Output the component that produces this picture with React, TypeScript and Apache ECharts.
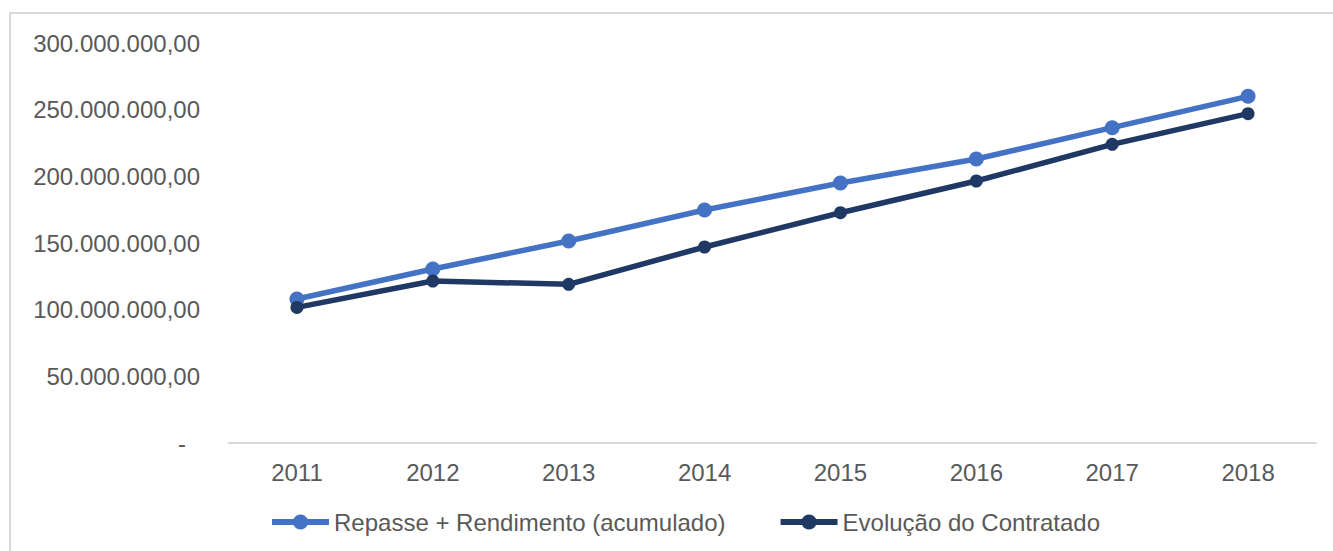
import React, { useEffect, useRef } from "react";
import * as echarts from "echarts";

const categories = ["2011", "2012", "2013", "2014", "2015", "2016", "2017", "2018"];
const repasseRendimento = [108000000, 130500000, 151500000, 174750000, 195000000, 213000000, 236500000, 260000000];
const evolucaoContratado = [101700000, 121500000, 119000000, 147000000, 172700000, 196500000, 224000000, 247000000];
const seriesNames = ["Repasse + Rendimento (acumulado)", "Evolução do Contratado"];
const yTicks = { min: 0, max: 300000000, interval: 50000000 };

function fmt(v: number): string {
  if (v === 0) return "{d|-}";
  const s = Math.round(v).toString();
  const withDots = s.replace(/\B(?=(\d{3})+(?!\d))/g, ".");
  return withDots + ",00";
}

export default function App() {
  const ref = useRef<HTMLDivElement>(null);
  useEffect(() => {
    document.body.style.margin = "0";
    if (!ref.current) return;
    const chart = echarts.init(ref.current, undefined, { renderer: "svg" });
    const font = "'Liberation Sans', Arial, sans-serif";
    chart.setOption({
      animation: false,
      backgroundColor: "#ffffff",
      graphic: [
        {
          type: "rect",
          shape: { x: 10, y: 13, width: 1330, height: 545 },
          style: { fill: "none", stroke: "#d9d9d9", lineWidth: 2 },
          silent: true,
        },
      ],
      grid: { left: 229, right: 17, top: 43, bottom: 108, containLabel: false },
      legend: {
        left: 264,
        top: 505,
        itemWidth: 57,
        itemHeight: 19,
        itemGap: 52,
        lineStyle: { width: 6 },
        textStyle: { color: "#595959", fontSize: 24, fontFamily: font },
        data: seriesNames,
      },
      xAxis: {
        type: "category",
        data: categories,
        boundaryGap: true,
        axisLine: { show: true, lineStyle: { color: "#d9d9d9", width: 2 } },
        axisTick: { show: false },
        axisLabel: { color: "#595959", fontSize: 24, fontFamily: font, margin: 17 },
        splitLine: { show: false },
      },
      yAxis: {
        type: "value",
        min: yTicks.min,
        max: yTicks.max,
        interval: yTicks.interval,
        axisLine: { show: false },
        axisTick: { show: false },
        splitLine: { show: false },
        axisLabel: {
          color: "#595959",
          fontSize: 24,
          fontFamily: font,
          margin: 29,
          formatter: (v: number) => fmt(v),
          rich: { d: { color: "#595959", fontSize: 24, fontFamily: font, padding: [0, 14, 0, 0] } },
        },
      },
      series: [
        {
          name: seriesNames[0],
          type: "line",
          data: repasseRendimento,
          symbol: "circle",
          symbolSize: 15,
          lineStyle: { color: "#4472C4", width: 5.5 },
          itemStyle: { color: "#4472C4" },
          z: 2,
        },
        {
          name: seriesNames[1],
          type: "line",
          data: evolucaoContratado,
          symbol: "circle",
          symbolSize: 13,
          lineStyle: { color: "#1F3864", width: 5.5 },
          itemStyle: { color: "#1F3864" },
          z: 3,
        },
      ],
    });
    return () => chart.dispose();
  }, []);
  return <div ref={ref} style={{ width: 1333, height: 551 }} />;
}
